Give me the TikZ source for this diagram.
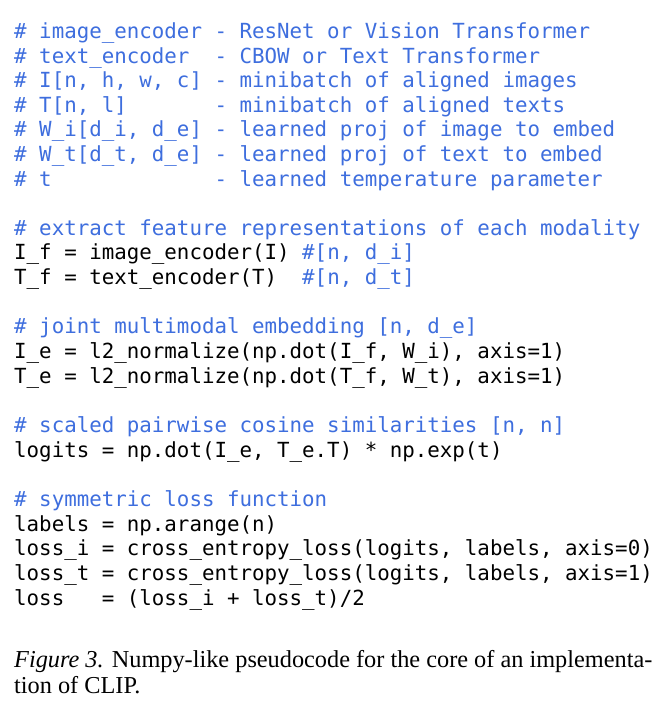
\documentclass[tikz,border=0pt]{standalone}
\usepackage{fontspec}
\setmonofont{DejaVu Sans Mono}
\setmainfont{Liberation Serif}
\definecolor{cblue}{RGB}{62,110,222}
\newcommand{\cm}[1]{\textcolor{cblue}{#1}}
\begin{document}
\begin{tikzpicture}[x=1pt,y=1pt,
  code/.style={anchor=base west,inner sep=0,font=\ttfamily\fontsize{20.8}{24}\selectfont,text=black},
  captext/.style={anchor=base west,inner sep=0,font=\fontsize{24.3}{28}\selectfont}]
\useasboundingbox[fill=white] (0,0) rectangle (668,720);
\def\lx{14}
\node[code] (l1) at (\lx,720-39) {\cm{\#~image\_encoder~-~ResNet~or~Vision~Transformer}};
\node[code] (l2) at (\lx,720-64) {\cm{\#~text\_encoder~~-~CBOW~or~Text~Transformer}};
\node[code] (l3) at (\lx,720-88) {\cm{\#~I[n,~h,~w,~c]~-~minibatch~of~aligned~images}};
\node[code] (l4) at (\lx,720-113) {\cm{\#~T[n,~l]~~~~~~~-~minibatch~of~aligned~texts}};
\node[code] (l5) at (\lx,720-137) {\cm{\#~W\_i[d\_i,~d\_e]~-~learned~proj~of~image~to~embed}};
\node[code] (l6) at (\lx,720-162) {\cm{\#~W\_t[d\_t,~d\_e]~-~learned~proj~of~text~to~embed}};
\node[code] (l7) at (\lx,720-187) {\cm{\#~t~~~~~~~~~~~~~-~learned~temperature~parameter}};
\node[code] (l8) at (\lx,720-236) {\cm{\#~extract~feature~representations~of~each~modality}};
\node[code] (l9) at (\lx,720-260) {I\_f~=~image\_encoder(I)~\cm{\#[n,~d\_i]}};
\node[code] (l10) at (\lx,720-285) {T\_f~=~text\_encoder(T)~~\cm{\#[n,~d\_t]}};
\node[code] (l11) at (\lx,720-334) {\cm{\#~joint~multimodal~embedding~[n,~d\_e]}};
\node[code] (l12) at (\lx,720-359) {I\_e~=~l2\_normalize(np.dot(I\_f,~W\_i),~axis=1)};
\node[code] (l13) at (\lx,720-384) {T\_e~=~l2\_normalize(np.dot(T\_f,~W\_t),~axis=1)};
\node[code] (l14) at (\lx,720-433) {\cm{\#~scaled~pairwise~cosine~similarities~[n,~n]}};
\node[code] (l15) at (\lx,720-458) {logits~=~np.dot(I\_e,~T\_e.T)~*~np.exp(t)};
\node[code] (l16) at (\lx,720-507) {\cm{\#~symmetric~loss~function}};
\node[code] (l17) at (\lx,720-532) {labels~=~np.arange(n)};
\node[code] (l18) at (\lx,720-556) {loss\_i~=~cross\_entropy\_loss(logits,~labels,~axis=0)};
\node[code] (l19) at (\lx,720-581) {loss\_t~=~cross\_entropy\_loss(logits,~labels,~axis=1)};
\node[code] (l20) at (\lx,720-606) {loss~~~=~(loss\_i~+~loss\_t)/2};
\node[captext] (c1) at (\lx,720-668) {\textit{Figure 3.} Numpy-like pseudocode for the core of an implementa-};
\node[captext] (c2) at (\lx,720-694) {tion of CLIP.};
\end{tikzpicture}
\end{document}
